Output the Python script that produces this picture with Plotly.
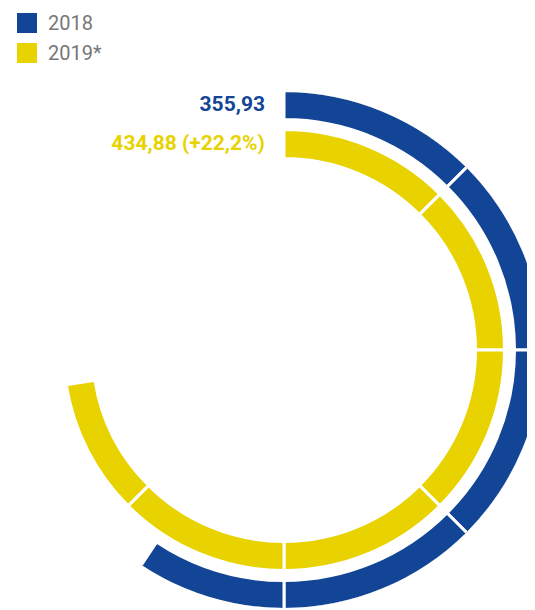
import plotly.graph_objects as go

# ---- data ----
series_names = ["2018", "2019*"]
series_values = [355.93, 434.88]
value_labels = ["355,93", "434,88 (+22,2%)"]
full_scale = 600.0      # value represented by a full circle
segment_size = 75.0     # each ring is split into 45-degree segments

# ---- style ----
colors = ["#134596", "#E8D200"]
ring_base = [230.5, 191.5]   # inner radius (radial units = px)
ring_thick = 29.0
label_theta = [-4.45, -5.3]
label_r = [245.0, 206.0]
W, H = 535, 610
OFF = 8                       # page body margin
CX, CY, R = 284.0 - OFF, 350.0 - OFF, 258.0

fig = go.Figure()

for name, val, col, base in zip(series_names, series_values, colors, ring_base):
    starts, ends = [], []
    s = 0.0
    while s < val:
        starts.append(s)
        ends.append(min(s + segment_size, val))
        s += segment_size
    theta = [(a + b) / 2 * 360.0 / full_scale for a, b in zip(starts, ends)]
    width = [(b - a) * 360.0 / full_scale for a, b in zip(starts, ends)]
    fig.add_trace(go.Barpolar(
        r=[ring_thick] * len(theta), base=[base] * len(theta),
        theta=theta, width=width, name=name,
        marker=dict(color=col, line=dict(color="white", width=3)),
        showlegend=False, hoverinfo="skip",
    ))

fig.add_trace(go.Scatterpolar(
    r=label_r, theta=label_theta, mode="text", text=value_labels,
    textposition="middle left", cliponaxis=False,
    textfont=dict(family="Roboto", size=21, color=colors, weight="bold"),
    showlegend=False, hoverinfo="skip",
))

fig.update_layout(
    width=W, height=H, margin=dict(l=0, r=0, t=0, b=0),
    paper_bgcolor="white", plot_bgcolor="white",
    font=dict(family="Roboto"),
    polar=dict(
        domain=dict(x=[(CX - R) / W, (CX + R) / W],
                    y=[(H - CY - R) / H, (H - CY + R) / H]),
        bgcolor="white",
        radialaxis=dict(visible=False, range=[0, R]),
        angularaxis=dict(visible=False, rotation=90, direction="clockwise"),
    ),
)

# legend (drawn manually to match large square swatches)
for i, (name, col) in enumerate(zip(series_names, colors)):
    top = 13 - OFF + 30 * i
    fig.add_shape(type="rect", xref="paper", yref="paper",
                  x0=(17 - OFF) / W, x1=(37 - OFF) / W,
                  y0=1 - top / H, y1=1 - (top + 20) / H,
                  fillcolor=col, line=dict(width=0))
    fig.add_annotation(x=(46 - OFF) / W, y=1 - (top + 10) / H, xref="paper", yref="paper",
                       text=name, showarrow=False, xanchor="left", yanchor="middle",
                       font=dict(family="Roboto", size=20, color="#777777"))

fig.write_html("out.html")
